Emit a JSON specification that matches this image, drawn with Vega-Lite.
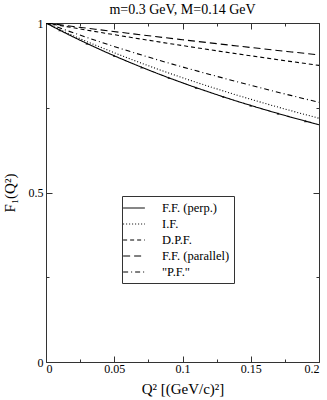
{
  "$schema": "https://vega.github.io/schema/vega-lite/v6.json",
  "width": 273,
  "height": 339,
  "autosize": {"type": "none"},
  "padding": {"left": 46, "top": 23, "right": 8, "bottom": 38},
  "background": "white",
  "title": {"text": "m=0.3 GeV, M=0.14 GeV", "font": "Liberation Serif", "fontSize": 14, "fontWeight": "normal", "color": "black", "anchor": "middle", "offset": 0},
  "config": {
    "view": {"stroke": "#333", "strokeWidth": 1},
    "axis": {"domain": false, "grid": false, "labelFont": "Liberation Serif", "labelFontSize": 12, "labelColor": "black", "titleFont": "Liberation Serif", "titleFontWeight": "normal", "titleColor": "black", "tickColor": "#333"}
  },
  "datasets": {
    "curves": [
      {"series": "F.F. (perp.)", "q2": 0, "f": 1},
      {"series": "F.F. (perp.)", "q2": 0.01, "f": 0.979},
      {"series": "F.F. (perp.)", "q2": 0.02, "f": 0.9589},
      {"series": "F.F. (perp.)", "q2": 0.03, "f": 0.9396},
      {"series": "F.F. (perp.)", "q2": 0.04, "f": 0.9211},
      {"series": "F.F. (perp.)", "q2": 0.05, "f": 0.9032},
      {"series": "F.F. (perp.)", "q2": 0.06, "f": 0.8861},
      {"series": "F.F. (perp.)", "q2": 0.07, "f": 0.8696},
      {"series": "F.F. (perp.)", "q2": 0.08, "f": 0.8537},
      {"series": "F.F. (perp.)", "q2": 0.09, "f": 0.8383},
      {"series": "F.F. (perp.)", "q2": 0.1, "f": 0.8235},
      {"series": "F.F. (perp.)", "q2": 0.11, "f": 0.8092},
      {"series": "F.F. (perp.)", "q2": 0.12, "f": 0.7955},
      {"series": "F.F. (perp.)", "q2": 0.13, "f": 0.7821},
      {"series": "F.F. (perp.)", "q2": 0.14, "f": 0.7692},
      {"series": "F.F. (perp.)", "q2": 0.15, "f": 0.7568},
      {"series": "F.F. (perp.)", "q2": 0.16, "f": 0.7447},
      {"series": "F.F. (perp.)", "q2": 0.17, "f": 0.733},
      {"series": "F.F. (perp.)", "q2": 0.18, "f": 0.7216},
      {"series": "F.F. (perp.)", "q2": 0.19, "f": 0.7107},
      {"series": "F.F. (perp.)", "q2": 0.2, "f": 0.7},
      {"series": "I.F.", "q2": 0, "f": 1},
      {"series": "I.F.", "q2": 0.02, "f": 0.9624},
      {"series": "I.F.", "q2": 0.04, "f": 0.9285},
      {"series": "I.F.", "q2": 0.06, "f": 0.8966},
      {"series": "I.F.", "q2": 0.08, "f": 0.8666},
      {"series": "I.F.", "q2": 0.1, "f": 0.8385},
      {"series": "I.F.", "q2": 0.12, "f": 0.8121},
      {"series": "I.F.", "q2": 0.14, "f": 0.7871},
      {"series": "I.F.", "q2": 0.16, "f": 0.7633},
      {"series": "I.F.", "q2": 0.18, "f": 0.7407},
      {"series": "I.F.", "q2": 0.2, "f": 0.719},
      {"series": "D.P.F.", "q2": 0, "f": 1},
      {"series": "D.P.F.", "q2": 0.02, "f": 0.9859},
      {"series": "D.P.F.", "q2": 0.04, "f": 0.9722},
      {"series": "D.P.F.", "q2": 0.06, "f": 0.9589},
      {"series": "D.P.F.", "q2": 0.08, "f": 0.946},
      {"series": "D.P.F.", "q2": 0.1, "f": 0.9334},
      {"series": "D.P.F.", "q2": 0.12, "f": 0.9211},
      {"series": "D.P.F.", "q2": 0.14, "f": 0.9091},
      {"series": "D.P.F.", "q2": 0.16, "f": 0.8975},
      {"series": "D.P.F.", "q2": 0.18, "f": 0.8861},
      {"series": "D.P.F.", "q2": 0.2, "f": 0.875},
      {"series": "F.F. (parallel)", "q2": 0, "f": 1},
      {"series": "F.F. (parallel)", "q2": 0.02, "f": 0.9897},
      {"series": "F.F. (parallel)", "q2": 0.04, "f": 0.9797},
      {"series": "F.F. (parallel)", "q2": 0.06, "f": 0.9698},
      {"series": "F.F. (parallel)", "q2": 0.08, "f": 0.9601},
      {"series": "F.F. (parallel)", "q2": 0.1, "f": 0.9507},
      {"series": "F.F. (parallel)", "q2": 0.12, "f": 0.9414},
      {"series": "F.F. (parallel)", "q2": 0.14, "f": 0.9323},
      {"series": "F.F. (parallel)", "q2": 0.16, "f": 0.9233},
      {"series": "F.F. (parallel)", "q2": 0.18, "f": 0.9146},
      {"series": "F.F. (parallel)", "q2": 0.2, "f": 0.906},
      {"series": "\"P.F.\"", "q2": 0, "f": 1},
      {"series": "\"P.F.\"", "q2": 0.02, "f": 0.9712},
      {"series": "\"P.F.\"", "q2": 0.04, "f": 0.9438},
      {"series": "\"P.F.\"", "q2": 0.06, "f": 0.918},
      {"series": "\"P.F.\"", "q2": 0.08, "f": 0.8935},
      {"series": "\"P.F.\"", "q2": 0.1, "f": 0.8703},
      {"series": "\"P.F.\"", "q2": 0.12, "f": 0.8482},
      {"series": "\"P.F.\"", "q2": 0.14, "f": 0.8268},
      {"series": "\"P.F.\"", "q2": 0.16, "f": 0.8059},
      {"series": "\"P.F.\"", "q2": 0.18, "f": 0.7857},
      {"series": "\"P.F.\"", "q2": 0.2, "f": 0.766}
    ],
    "markers": [
      {"q2": 0.01, "f": 0.979},
      {"q2": 0.03, "f": 0.9396},
      {"q2": 0.05, "f": 0.9032},
      {"q2": 0.07, "f": 0.8696},
      {"q2": 0.09, "f": 0.8383},
      {"q2": 0.11, "f": 0.8092},
      {"q2": 0.13, "f": 0.7821},
      {"q2": 0.15, "f": 0.7568},
      {"q2": 0.17, "f": 0.733},
      {"q2": 0.19, "f": 0.7107}
    ]
  },
  "layer": [
    {
      "data": {"name": "curves"},
      "mark": {"type": "line", "color": "black", "strokeWidth": 1.1, "interpolate": "monotone", "clip": true},
      "encoding": {
        "x": {"field": "q2", "type": "quantitative", "scale": {"domain": [0, 0.2], "nice": false},
          "axis": {"orient": "bottom", "title": "Q² [(GeV/c)²]", "titleFontSize": 15, "titlePadding": 7, "format": ".2~f",
            "values": [0, 0.025, 0.05, 0.075, 0.1, 0.125, 0.15, 0.175, 0.2],
            "labelExpr": "round(datum.value*1000) % 50 == 0 ? datum.label : ''",
            "tickSize": {"condition": {"test": "round(datum.value*1000) % 50 == 0", "value": -6}, "value": -3},
            "labelPadding": 7, "labelFont": "Liberation Serif"}},
        "y": {"field": "f", "type": "quantitative", "scale": {"domain": [0, 1], "nice": false},
          "axis": {"orient": "left", "title": "F₁(Q²)", "titleFontSize": 15, "titlePadding": 11, "format": ".1~f",
            "values": [0, 0.25, 0.5, 0.75, 1],
            "labelExpr": "round(datum.value*100) % 50 == 0 ? datum.label : ''",
            "tickSize": {"condition": {"test": "round(datum.value*100) % 50 == 0", "value": -6}, "value": -3},
            "labelPadding": 9, "labelFont": "Liberation Serif"}},
        "strokeDash": {"field": "series", "type": "nominal",
          "scale": {"domain": ["F.F. (perp.)", "I.F.", "D.P.F.", "F.F. (parallel)", "\"P.F.\""],
            "range": [[1, 0], [1, 2], [4, 3], [7, 4], [5, 3, 1, 3]]},
          "legend": {"title": null, "orient": "none", "legendX": 76, "legendY": 173,
            "strokeColor": "#333", "fillColor": "white", "padding": 4,
            "symbolType": "M-1.45,0H1.45", "symbolSize": 225, "symbolStrokeWidth": 1, "symbolStrokeColor": "black",
            "labelFont": "Liberation Serif", "labelFontSize": 12.5, "labelColor": "black", "rowPadding": 1, "labelOffset": 20}}
      }
    },
    {
      "data": {"name": "markers"},
      "mark": {"type": "point", "shape": "triangle-up", "filled": true, "color": "black", "size": 8},
      "encoding": {
        "x": {"field": "q2", "type": "quantitative",
          "axis": {"orient": "top", "title": null, "labels": false,
            "values": [0, 0.025, 0.05, 0.075, 0.1, 0.125, 0.15, 0.175, 0.2],
            "tickSize": {"condition": {"test": "round(datum.value*1000) % 50 == 0", "value": -6}, "value": -3}}},
        "y": {"field": "f", "type": "quantitative",
          "axis": {"orient": "right", "title": null, "labels": false,
            "values": [0, 0.25, 0.5, 0.75, 1],
            "tickSize": {"condition": {"test": "round(datum.value*100) % 50 == 0", "value": -6}, "value": -3}}}
      }
    }
  ],
  "resolve": {"axis": {"x": "independent", "y": "independent"}}
}
